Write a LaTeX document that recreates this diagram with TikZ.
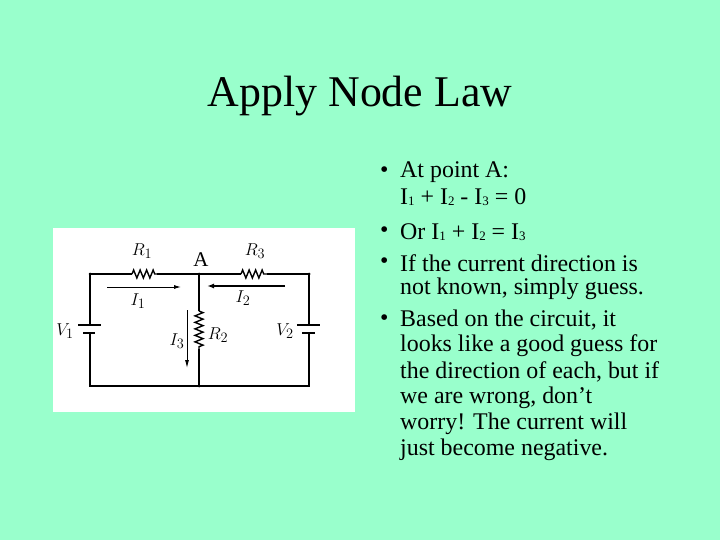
\documentclass[tikz,border=0pt]{standalone}
\usepackage{fontspec}
\setmainfont{Liberation Serif}
\usetikzlibrary{arrows.meta,decorations.pathmorphing}
\definecolor{bg}{HTML}{99FFCC}
\begin{document}
\begin{tikzpicture}[x=1bp,y=-1bp,
  wire/.style={line width=1.4bp},
  res/.style={line width=1.4bp,decorate,decoration={zigzag,segment length=6.5bp,amplitude=4bp}},
  lbl/.style={font=\fontsize{19}{19}\selectfont},
  bul/.style={anchor=west,font=\fontsize{24}{24}\selectfont,inner sep=0}]
\fill[bg] (0,0) rectangle (720,540);
\useasboundingbox (0,0) rectangle (720,540);
\node[font=\fontsize{44}{44}\selectfont] (title) at (360,96) {Apply Node Law};
\fill[white] (53,228) rectangle (355,412);
% coordinates
\coordinate (tl) at (90,274); \coordinate (tm) at (199,274); \coordinate (tr) at (309,274);
\coordinate (bl) at (90,386); \coordinate (bm) at (199,386); \coordinate (br) at (309,386);
\coordinate (r1a) at (132,274); \coordinate (r1b) at (157,274);
\coordinate (r3a) at (241,274); \coordinate (r3b) at (267,274);
\coordinate (r2a) at (199,311); \coordinate (r2b) at (199,349);
\coordinate (v1a) at (90,325); \coordinate (v1b) at (90,333);
\coordinate (v2a) at (309,325); \coordinate (v2b) at (309,333);
\draw[wire] (v1a) -- (tl) -- (r1a); \draw[res] (r1a) -- (r1b);
\draw[wire] (r1b) -- (tm) -- (r3a); \draw[res] (r3a) -- (r3b);
\draw[wire] (r3b) -- (tr) -- (v2a);
\draw[wire] (v2b) -- (br) -- (bl) -- (v1b);
\draw[wire] (tm) -- (r2a); \draw[res] (r2a) -- (r2b); \draw[wire] (r2b) -- (bm);
\draw[line width=1.8bp] (78,325) -- (101,325); \draw[line width=1.8bp] (83,333) -- (95,333);
\draw[line width=1.8bp] (297,325) -- (320,325); \draw[line width=1.8bp] (302,333) -- (315,333);
\foreach \p in {tl,tm,tr,bm} \fill (\p) circle (1.5bp);
% currents
\coordinate (i1s) at (107,287); \coordinate (i1e) at (181,287);
\coordinate (i2s) at (285,286); \coordinate (i2e) at (207,286);
\coordinate (i3s) at (187,310); \coordinate (i3e) at (187,368);
\draw[line width=0.9bp,-{Latex[length=7bp,width=4bp]}] (i1s) -- (i1e);
\draw[line width=2bp,-{Latex[length=7bp,width=5bp]}] (i2s) -- (i2e);
\draw[line width=0.9bp,-{Latex[length=8bp,width=4bp]}] (i3s) -- (i3e);
\node[lbl] (lr1) at (142,251) {$R_1$};
\node[lbl] (lr3) at (255,251) {$R_3$};
\node[font=\fontsize{21}{21}\selectfont] (la) at (201,260) {A};
\node[lbl] (li1) at (138,301) {$I_1$};
\node[lbl] (li2) at (243,298) {$I_2$};
\node[lbl] (lv1) at (65,331) {$V_1$};
\node[lbl] (lv2) at (285,331) {$V_2$};
\node[lbl] (li3) at (177,341) {$I_3$};
\node[lbl] (lr2) at (218,335) {$R_2$};
% text
\newcommand\sbs[1]{\raisebox{-0.1ex}{\fontsize{13}{13}\selectfont #1}}
\foreach \y in {172,232,263,320} \node[bul] at (380,\y) {•};
\node[bul] (t1) at (400,172) {At point A:};
\node[bul] (t2) at (400,197) {I\sbs{1} + I\sbs{2} - I\sbs{3} = 0};
\node[bul] (t3) at (400,232) {Or I\sbs{1} + I\sbs{2} = I\sbs{3}};
\node[bul] (t4) at (400,263) {If the current direction is};
\node[bul] (t5) at (400,289) {not known, simply guess.};
\node[bul] (t6) at (400,320) {Based on the circuit, it};
\node[bul] (t7) at (400,346) {looks like a good guess for};
\node[bul] (t8) at (400,372) {the direction of each, but if};
\node[bul] (t9) at (400,398) {we are wrong, don’t};
\node[bul] (t10) at (400,424) {worry! The current will};
\node[bul] (t11) at (400,450) {just become negative.};
\end{tikzpicture}
\end{document}
